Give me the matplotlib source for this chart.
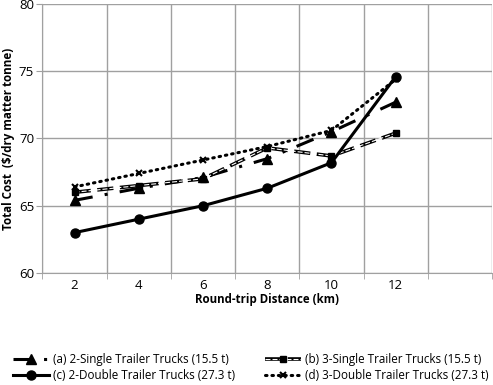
import numpy as np
import matplotlib.pyplot as plt

plt.rcParams['font.family'] = ['Open Sans', 'DejaVu Sans']

# données
distances = ['2', '4', '6', '8', '10', '12']
cout_a = [65.4, 66.3, 67.1, 68.5, 70.5, 72.7]
cout_b = [66.0, 66.5, 67.0, 69.3, 68.7, 70.4]
cout_c = [63.0, 64.0, 65.0, 66.3, 68.2, 74.6]
cout_d = [66.4, 67.4, 68.4, 69.4, 70.6, 74.4]
noms = ['(a) 2-Single Trailer Trucks (15.5 t)',
        '(b) 3-Single Trailer Trucks (15.5 t)',
        '(c) 2-Double Trailer Trucks (27.3 t)',
        '(d) 3-Double Trailer Trucks (27.3 t)']

fig = plt.figure(figsize=(4.93, 3.85), dpi=100)
ax = fig.add_axes([0.0862, 0.291, 0.9118, 0.6986])

x = np.arange(1, len(distances) + 1)

la, = ax.plot(x, cout_a, color='black', lw=2.2, dashes=(6, 4, 1, 4),
              marker='^', ms=6.5, zorder=3)
# double trait : trait noir épais + trait blanc fin par-dessus
lb1, = ax.plot(x, cout_b, color='black', lw=2.6, dashes=(4.5, 1.8), zorder=3)
lb2, = ax.plot(x, cout_b, color='white', lw=0.8, dashes=(4.5, 1.8), zorder=3)
lb3, = ax.plot(x, cout_b, color='black', ls='none', marker='s', ms=5, zorder=3)
lc, = ax.plot(x, cout_c, color='black', lw=2.2, marker='o', ms=6.5, zorder=3)
ld, = ax.plot(x, cout_d, color='black', lw=2.2, linestyle=(0, (0.5, 1.6)),
              dash_capstyle='round', marker='x', ms=4.5, mew=1.5, zorder=3)

ax.set_xlim(0.5, 7.5)
ax.set_ylim(60, 80)
ax.set_xticks(x)
ax.set_xticklabels(distances)
ax.set_yticks([60, 65, 70, 75, 80])
ax.set_xticks(np.arange(0.5, 8, 1), minor=True)
ax.tick_params(axis='x', which='major', length=0, labelsize=9.5, pad=4)
ax.tick_params(axis='x', which='minor', length=4, color='#a0a0a0')
ax.tick_params(axis='y', length=4, color='#a0a0a0', labelsize=9.5, pad=2)
ax.grid(True, which='minor', axis='x', color='#a0a0a0', lw=1)
ax.grid(True, which='major', axis='y', color='#a0a0a0', lw=1)
for s in ['top', 'right']:
    ax.spines[s].set_visible(False)
for s in ['left', 'bottom']:
    ax.spines[s].set_color('#a0a0a0')

ax.set_xlabel('Round-trip Distance (km)', fontsize=8.3, fontweight='bold', labelpad=1)
ax.set_ylabel('Total Cost  ($/dry matter tonne)', fontsize=8.4, fontweight='bold', labelpad=3)

# ordre colonne par colonne : a, c | b, d
fig.legend([la, lc, (lb1, lb2, lb3), ld], [noms[0], noms[2], noms[1], noms[3]],
           ncol=2, loc='lower left', bbox_to_anchor=(0.005, -0.02),
           frameon=False, fontsize=8.4, handlelength=3.1, handletextpad=0.3,
           columnspacing=2.6, labelspacing=0.3)

fig.savefig('out.png', dpi=100)
